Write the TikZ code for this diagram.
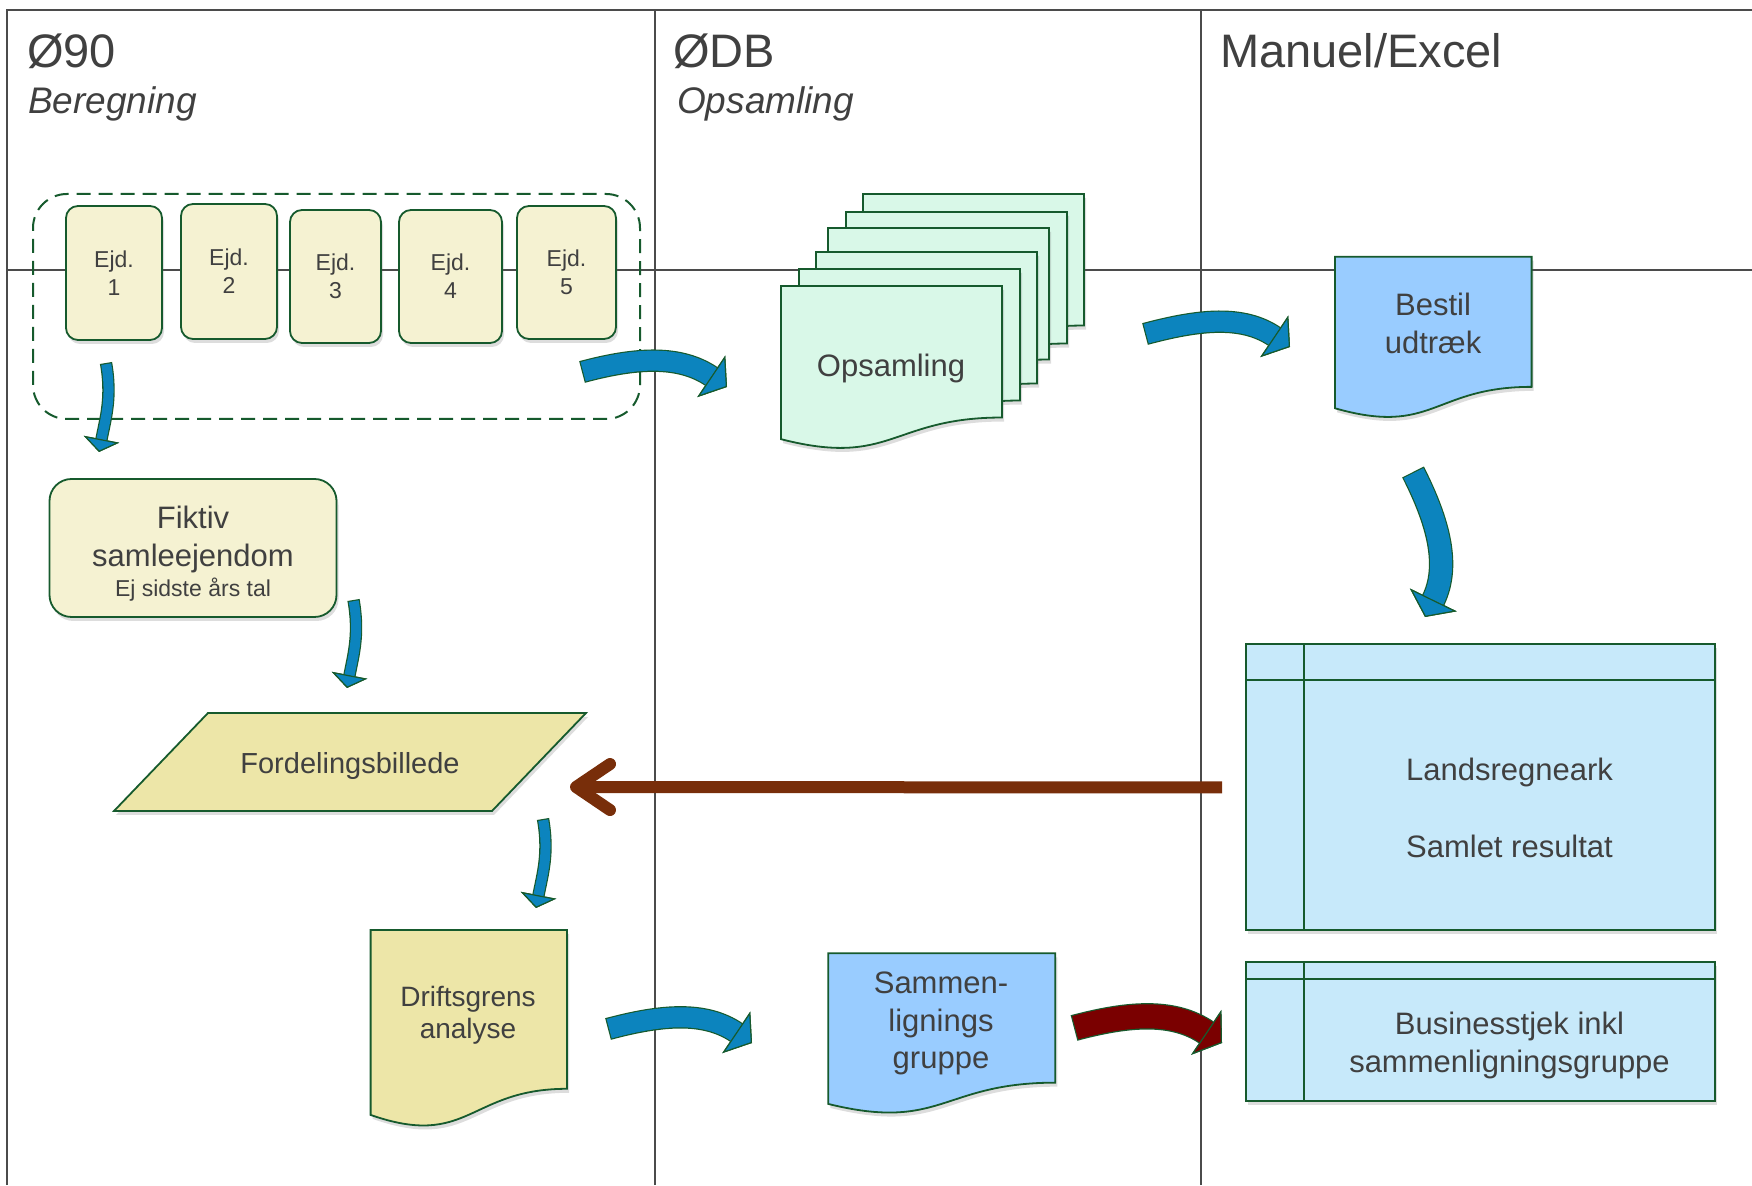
\documentclass[tikz,border=0pt]{standalone}
\usepackage{fontspec}
\setmainfont{Liberation Sans}
\usetikzlibrary{arrows.meta,shadows}

\definecolor{framegray}{RGB}{75,75,75}
\definecolor{txtgray}{RGB}{64,64,64}
\definecolor{outgreen}{RGB}{22,90,45}
\definecolor{cream}{RGB}{245,242,210}
\definecolor{khaki}{RGB}{237,230,168}
\definecolor{mint}{RGB}{217,248,232}
\definecolor{docblue}{RGB}{153,204,255}
\definecolor{sheetblue}{RGB}{199,233,250}
\definecolor{arrowblue}{RGB}{12,132,190}
\definecolor{darkred}{RGB}{122,0,0}
\definecolor{rust}{RGB}{120,46,10}

% document sheet with wavy bottom: x, top y, width, height
\newcommand{\docpath}[4]{(#1,#2) -- ({#1+#3},#2) -- ({#1+#3},{#2-0.802*#4})
  .. controls ({#1+0.5*#3},{#2-0.802*#4}) and ({#1+0.5*#3},{#2-1.1075*#4}) .. (#1,{#2-0.934*#4}) -- cycle}

\tikzset{
  outline/.style={draw=outgreen, line width=1.8pt,
    drop shadow={shadow xshift=2pt, shadow yshift=-4pt, opacity=0.22, fill=black!60}},
  innerline/.style={draw=outgreen, line width=1.8pt},
  label/.style={text=txtgray, inner sep=0pt, align=center},
  blockarrow/.style n args={5}{draw=#1, line width=#2, shorten <=1.2pt,
    -{Triangle[length=#4, width=#5, line width=1.2pt 0 1, color=outgreen, fill=#1]},
    preaction={draw=outgreen, line width=#3, shorten <=0pt,
      -{Triangle[length=#4, width=#5, line width=1.2pt 0 1, color=outgreen, fill=#1]}}},
}

\begin{document}
\begin{tikzpicture}[x=1pt,y=1pt]
\useasboundingbox (0,0) rectangle (1752,1185);

% lanes
\begin{scope}[draw=framegray, line width=2.6pt]
  \draw (7,0) -- (7,1175) -- (1752,1175);
  \draw (655,0) -- (655,1175);
  \draw (1201,0) -- (1201,1175);
  \draw (7,915) -- (1752,915);
\end{scope}

\begin{scope}[every node/.style={anchor=base west, inner sep=0pt, text=txtgray}]
  \node[font=\fontsize{47}{56}\selectfont] (h1) at (27,1117) {Ø90};
  \node[font=\fontsize{37}{44}\selectfont\itshape] (s1) at (28,1071) {Beregning};
  \node[font=\fontsize{47}{56}\selectfont] (h2) at (673,1117) {ØDB};
  \node[font=\fontsize{37}{44}\selectfont\itshape] (s2) at (677,1071) {Opsamling};
  \node[font=\fontsize{47}{56}\selectfont] (h3) at (1220,1117) {Manuel/Excel};
\end{scope}

% the properties
\draw[outgreen, line width=2pt, dash pattern=on 14pt off 8pt, rounded corners=34pt]
  (33,766) rectangle (640,991);

\begin{scope}[every node/.style={outline, fill=cream, rounded corners=12pt, label,
    font=\fontsize{23}{28}\selectfont}]
  \node[minimum width=96pt, minimum height=134pt] (e1) at (114,912) {Ejd.\\1};
  \node[minimum width=96pt, minimum height=135pt] (e2) at (229,913.5) {Ejd.\\2};
  \node[minimum width=91pt, minimum height=133pt] (e3) at (335.5,908.5) {Ejd.\\3};
  \node[minimum width=103pt, minimum height=133pt] (e4) at (450.5,908.5) {Ejd.\\4};
  \node[minimum width=99pt, minimum height=133pt] (e5) at (566.5,912.5) {Ejd.\\5};
\end{scope}

\node[outline, fill=cream, rounded corners=22pt, label, minimum width=287pt,
  minimum height=138pt, font=\fontsize{31}{38}\selectfont] (fiktiv) at (193,637)
  {\rule{0pt}{33pt}Fiktiv\\samleejendom\\[-8pt]{\fontsize{23}{28}\selectfont Ej sidste års tal}};

\draw[outline, fill=khaki] (208,472) -- (586,472) -- (492,374) -- (114,374) -- cycle;
\node[label, anchor=base, font=\fontsize{29}{35}\selectfont] (fordel) at (350,411) {Fordelingsbillede};

\draw[outline, fill=khaki] \docpath{370.6}{255}{196.4}{198};
\node[label, font=\fontsize{28}{32}\selectfont] (drift) at (468,170) {Driftsgrens\\analyse};

% collected sheets
\foreach \sx/\sy in {863/991, 846/973, 828/957, 816/933, 799/916, 781/899}
  \draw[outline, fill=mint] \docpath{\sx}{\sy}{221}{164};
\node[label, anchor=base, font=\fontsize{31}{38}\selectfont] (opsaml) at (891,808) {Opsamling};

\draw[outline, fill=docblue] \docpath{828.3}{231.7}{227}{161.3};
\node[label, font=\fontsize{31}{37.7}\selectfont] (sammen) at (941,161.5) {Sammen-\\lignings\\gruppe};

\draw[outline, fill=docblue] \docpath{1335}{928.3}{196.6}{162.3};
\node[label, font=\fontsize{31}{37.7}\selectfont] (bestil) at (1433,861.5) {Bestil\\udtræk};

\node[outline, fill=sheetblue, minimum width=469pt, minimum height=285.7pt,
  inner sep=0pt, outer sep=0pt] (lands) at (1480.5,397.9) {};
\draw[innerline] ([xshift=58pt]lands.north west) -- ([xshift=58pt]lands.south west);
\draw[innerline] ([yshift=-36pt]lands.north west) -- ([yshift=-36pt]lands.north east);
\node[label, font=\fontsize{31}{38.4}\selectfont] (landstxt) at (1509.5,377)
  {Landsregneark\\[38.3pt]Samlet resultat};

\node[outline, fill=sheetblue, minimum width=469pt, minimum height=139.3pt,
  inner sep=0pt, outer sep=0pt] (biz) at (1480.5,153.6) {};
\draw[innerline] ([xshift=58pt]biz.north west) -- ([xshift=58pt]biz.south west);
\draw[innerline] ([yshift=-17.6pt]biz.north west) -- ([yshift=-17.6pt]biz.north east);
\node[label, font=\fontsize{31}{37.6}\selectfont] (biztxt) at (1509.5,139.7)
  {Businesstjek inkl\\sammenligningsgruppe};

% flow arrows
\coordinate (a1) at (106,822);   \coordinate (a2) at (99,733);
\coordinate (b1) at (353.5,585); \coordinate (b2) at (347,497);
\coordinate (c1) at (543,366);   \coordinate (c2) at (536,277);
\coordinate (d1) at (582,813);   \coordinate (d2) at (727,798);
\coordinate (f1) at (1145,851);  \coordinate (f2) at (1290,838);
\coordinate (g1) at (1413,713);  \coordinate (g2) at (1425,568);
\coordinate (k1) at (608,156);   \coordinate (k2) at (752,142);
\coordinate (m1) at (1074,157);  \coordinate (m2) at (1222,142);
\coordinate (r1) at (1222,397.5); \coordinate (r2) at (570,398);

\draw[blockarrow={arrowblue}{10pt}{12.4pt}{13pt}{36pt}] (a1) to[out=-80, in=79] (a2);
\draw[blockarrow={arrowblue}{10pt}{12.4pt}{13pt}{36pt}] (b1) to[out=-80, in=79] (b2);
\draw[blockarrow={arrowblue}{10pt}{12.4pt}{13pt}{36pt}] (c1) to[out=-80, in=79] (c2);
\draw[blockarrow={arrowblue}{20pt}{22.4pt}{19pt}{50pt}] (d1) to[out=15, in=146] (d2);
\draw[blockarrow={arrowblue}{20pt}{22.4pt}{19pt}{50pt}] (f1) to[out=15, in=146] (f2);
\draw[blockarrow={arrowblue}{22pt}{24.4pt}{19pt}{52pt}] (g1) to[out=-63, in=64] (g2);
\draw[blockarrow={arrowblue}{20pt}{22.4pt}{19pt}{50pt}] (k1) to[out=15, in=146] (k2);
\draw[blockarrow={darkred}{24pt}{26.4pt}{19pt}{54pt}] (m1) to[out=15, in=146] (m2);

\draw[rust, line width=12pt, -{Straight Barb[length=34pt, width=46pt, round]}] (r1) -- (r2);

\end{tikzpicture}
\end{document}
